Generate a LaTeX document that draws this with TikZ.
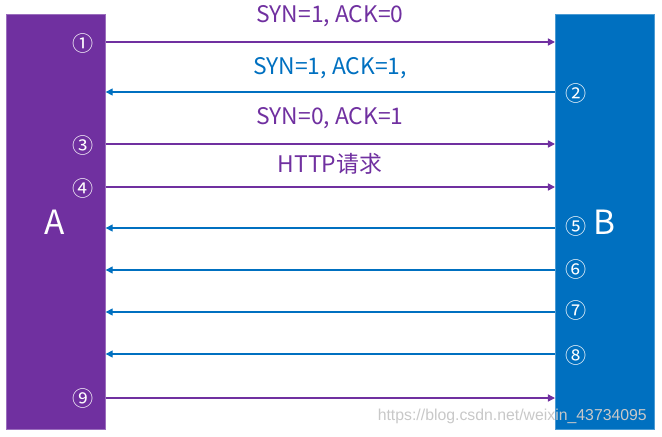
\documentclass[tikz,border=0pt]{standalone}
\usepackage{fontspec}
\setmainfont{Noto Sans CJK SC}
\newfontfamily\wmfont{Liberation Sans}
\usetikzlibrary{positioning,arrows.meta,calc}
\definecolor{hostA}{HTML}{7030A0}
\definecolor{hostB}{HTML}{0070C0}
\definecolor{wmCol}{HTML}{C8C8C8}
\tikzset{
  hostbar/.style={
    rectangle, draw=#1!70, fill=#1, line width=0.4pt,
    minimum width=1.98cm, minimum height=8.3cm, inner sep=0pt,
  },
  hostname/.style={font=\fontsize{19}{19}\selectfont, text=white},
  stepnum/.style={font=\fontsize{12}{12}\selectfont, text=white, inner sep=0pt},
  msglabel/.style={font=\fontsize{13}{14}\selectfont, text=#1},
  sendA/.style={-{Triangle[length=4pt,width=4pt]}, hostA, line width=0.8pt},
  sendB/.style={-{Triangle[length=4pt,width=4pt]}, hostB, line width=0.8pt},
}

\begin{document}
\begin{tikzpicture}[x=0.02cm, y=-0.02cm]

  \useasboundingbox (0,0) rectangle (662,436);

  % Hosts
  \node[hostbar=hostA, anchor=north west] (barA) at (6,14) {};
  \node[hostbar=hostB, anchor=north west] (barB) at (555,14) {};
  \node[hostname] (nameA) at (55,222) {A};
  \node[hostname] (nameB) at (604,222) {B};

  % Step numbers
  \node[stepnum] (n1) at (83,43) {①};
  \node[stepnum] (n2) at (576,93) {②};
  \node[stepnum] (n3) at (83,145) {③};
  \node[stepnum] (n4) at (83,188) {④};
  \node[stepnum] (n5) at (576,226) {⑤};
  \node[stepnum] (n6) at (576,269) {⑥};
  \node[stepnum] (n7) at (576,310) {⑦};
  \node[stepnum] (n8) at (576,355) {⑧};
  \node[stepnum] (n9) at (83,398) {⑨};

  % Messages
  \draw[sendA] (barA.east |- 0,42) -- (barB.west |- 0,42);
  \draw[sendB] (barB.west |- 0,92) -- (barA.east |- 0,92);
  \draw[sendA] (barA.east |- 0,144) -- (barB.west |- 0,144);
  \draw[sendA] (barA.east |- 0,187) -- (barB.west |- 0,187);
  \draw[sendB] (barB.west |- 0,228) -- (barA.east |- 0,228);
  \draw[sendB] (barB.west |- 0,270) -- (barA.east |- 0,270);
  \draw[sendB] (barB.west |- 0,312) -- (barA.east |- 0,312);
  \draw[sendB] (barB.west |- 0,354) -- (barA.east |- 0,354);
  \draw[sendA] (barA.east |- 0,398) -- (barB.west |- 0,398);

  \node[msglabel=hostA] (m1) at (330,16) {SYN=1, ACK=0};
  \node[msglabel=hostB] (m2) at (330,68) {SYN=1, ACK=1,};
  \node[msglabel=hostA] (m3) at (330,118) {SYN=0, ACK=1};
  \node[msglabel=hostA] (m4) at (330,164) {HTTP请求};

  % Watermark
  \node[font=\wmfont\fontsize{9}{10}\selectfont, text=wmCol, anchor=east] (wm) at (653,416) {https://blog.csdn.net/weixin\_43734095};

\end{tikzpicture}
\end{document}
